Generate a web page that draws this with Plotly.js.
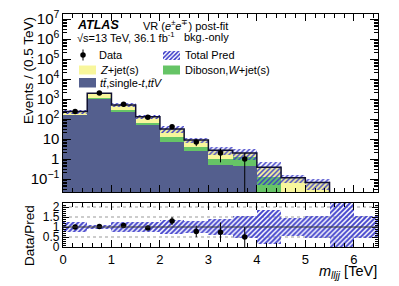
<!DOCTYPE html>
<html>
<head>
<meta charset="utf-8">
<script src="https://cdn.plot.ly/plotly-3.0.1.min.js"></script>
<style>html,body{margin:0;padding:0;background:#fff;}#plot{width:399px;height:286px;}</style>
</head>
<body>
<div id="plot"></div>
<script>
// ---- data ----
const binCenters = [0.25, 0.75, 1.25, 1.75, 2.25, 2.75, 3.25, 3.75, 4.25, 4.75, 5.25, 5.75, 6.25];
const binEdges   = [0, 0.5, 1, 1.5, 2, 2.5, 3, 3.5, 4, 4.5, 5, 5.5, 6, 6.5];
const ttbar   = [150, 1000, 216, 50, 6.8, 2.6, 0.5, 0.45, 0, 0, 0, 0, 0];
const diboson = [6, 160, 56, 15, 6.2, 1.25, 0.47, 0.85, 0.13, 0.005, 0.002, 0, 0];
const zjets   = [80, 770, 228, 65, 18.6, 5.15, 1.73, 0.7, 0.255, 0.11, 0.064, 0.003, 0.004];
const dataCounts   = [235, 1990, 540, 123, 41, 7, 2, 1, null, null, null, null, null];
const dataErrUp    = [15, 45, 23, 11, 6.4, 2.6, 1.3, 1.0, null, null, null, null, null];
const dataErrDown  = [15, 45, 23, 11, 6.4, 2.6, 1.32, 0.999, null, null, null, null, null];
const relUnc  = [0.24, 0.09, 0.24, 0.24, 0.37, 0.3, 0.4, 0.55, 0.87, 0.45, 0.55, 1.5, 0.56];
const xTickVals = [0, 1, 2, 3, 4, 5, 6];
const rTickVals = [0, 0.5, 1, 1.5, 2];
const rTickText = ['0', '0.5', '1', '1.5', '2'];

// ---- derived ----
const total = binCenters.map((_, i) => ttbar[i] + diboson[i] + zjets[i]);
const bandBase = total.map((t, i) => relUnc[i] < 1 ? t * (1 - relUnc[i]) : 1e-4);
const bandH = total.map((t, i) => t * (1 + relUnc[i]) - bandBase[i]);
const rBase = relUnc.map(r => 1 - r);
const rH = relUnc.map(r => 2 * r);
const ratio = dataCounts.map((d, i) => d == null ? null : d / total[i]);
const ratioUp = dataErrUp.map((e, i) => e == null ? null : e / total[i]);
const ratioDn = dataErrDown.map((e, i) => e == null ? null : e / total[i]);
const stepY = total.concat([total[total.length - 1]]);

// pixel -> paper helpers (plot area: x 63..378, y 14..247)
const L = 63, R = 378, T = 14, B = 247;
const px = x => (x - L) / (R - L);
const py = y => (B - y) / (B - T);

const FONT = 'Liberation Sans, Arial, Helvetica, sans-serif';
const COL_TT = '#545f8e', COL_DB = '#66c466', COL_Z = '#f8f69c';
const HATCH = {shape: '/', fgcolor: '#3535c8', bgcolor: 'rgba(255,255,255,0)', size: 3.5, solidity: 0.4, fillmode: 'replace'};

const traces = [
  {type: 'bar', x: binCenters, y: ttbar, width: 0.5, marker: {color: COL_TT, line: {width: 0}}, xaxis: 'x', yaxis: 'y', hoverinfo: 'skip'},
  {type: 'bar', x: binCenters, y: diboson, width: 0.5, marker: {color: COL_DB, line: {width: 0}}, xaxis: 'x', yaxis: 'y', hoverinfo: 'skip'},
  {type: 'bar', x: binCenters, y: zjets, width: 0.5, marker: {color: COL_Z, line: {width: 0}}, xaxis: 'x', yaxis: 'y', hoverinfo: 'skip'},
  {type: 'bar', x: binCenters, y: bandH, base: bandBase, width: 0.5,
   marker: {color: 'rgba(0,0,0,0)', line: {width: 0}, pattern: HATCH}, xaxis: 'x', yaxis: 'y', hoverinfo: 'skip'},
  {type: 'bar', x: binCenters, y: rH, base: rBase, width: 0.5,
   marker: {color: 'rgba(0,0,0,0)', line: {width: 0}, pattern: {shape: '/', fgcolor: '#4040cc', bgcolor: 'rgba(255,255,255,0)', size: 3.5, solidity: 0.55, fillmode: 'replace'}},
   xaxis: 'x2', yaxis: 'y2', hoverinfo: 'skip'},
  {type: 'scatter', mode: 'lines', x: binEdges, y: stepY, line: {shape: 'hv', color: '#101030', width: 1.5}, xaxis: 'x', yaxis: 'y', hoverinfo: 'skip'},
  {type: 'scatter', mode: 'markers', x: binCenters, y: dataCounts,
   marker: {color: 'black', size: 5.5},
   error_y: {type: 'data', array: dataErrUp, arrayminus: dataErrDown, color: 'black', thickness: 1, width: 0},
   xaxis: 'x', yaxis: 'y', hoverinfo: 'skip'},
  {type: 'scatter', mode: 'markers', x: binCenters, y: ratio,
   marker: {color: 'black', size: 5.5},
   error_y: {type: 'data', array: ratioUp, arrayminus: ratioDn, color: 'black', thickness: 1, width: 0},
   xaxis: 'x2', yaxis: 'y2', hoverinfo: 'skip'},
  // legend glyphs (pixel-unit overlay axes)
  {type: 'scatter', mode: 'markers', x: [83], y: [55], marker: {color: 'black', size: 5.5},
   error_y: {type: 'data', array: [5.5], arrayminus: [5.5], color: 'black', thickness: 1, width: 0},
   xaxis: 'x3', yaxis: 'y3', hoverinfo: 'skip'},
  {type: 'bar', x: [171.5], y: [-9], base: [59.5], width: 17,
   marker: {color: 'rgba(0,0,0,0)', line: {width: 0}, pattern: {shape: '/', fgcolor: '#3535c8', bgcolor: 'rgba(255,255,255,0)', size: 3, solidity: 0.5, fillmode: 'replace'}},
   xaxis: 'x3', yaxis: 'y3', hoverinfo: 'skip'}
];

const axLine = {showline: true, linecolor: 'black', linewidth: 1.2, mirror: 'ticks', zeroline: false, showgrid: false,
  ticks: 'inside', tickcolor: 'black', tickfont: {family: FONT, size: 13, color: 'black'}};

const layout = {
  width: 399, height: 286,
  margin: {l: L, r: 399 - R, t: T, b: 286 - B},
  paper_bgcolor: 'white', plot_bgcolor: 'white',
  showlegend: false, barmode: 'stack', bargap: 0,
  font: {family: FONT, color: 'black'},
  xaxis: Object.assign({}, axLine, {range: [0, 6.5], domain: [0, 1], anchor: 'y', showticklabels: false,
    tickvals: xTickVals, ticklen: 7, minor: {dtick: 0.2, ticklen: 4, ticks: 'inside', tickcolor: 'black'}}),
  yaxis: Object.assign({}, axLine, {type: 'log', range: [-1.65, 7.25], domain: [py(192), 1], anchor: 'x',
    dtick: 1, exponentformat: 'power', ticklen: 8, tickfont: {family: FONT, size: 12, color: 'black'},
    minor: {dtick: 'D1', ticklen: 4, ticks: 'inside', tickcolor: 'black'}}),
  xaxis2: Object.assign({}, axLine, {range: [0, 6.5], domain: [0, 1], anchor: 'y2',
    tickvals: xTickVals, ticklen: 7, minor: {dtick: 0.2, ticklen: 4, ticks: 'inside', tickcolor: 'black'}}),
  yaxis2: Object.assign({}, axLine, {range: [0, 2.2], domain: [0, py(203)], anchor: 'x2',
    tickvals: rTickVals, ticktext: rTickText, ticklen: 6, tickfont: {family: FONT, size: 12, color: 'black'},
    minor: {dtick: 0.1, ticklen: 3, ticks: 'inside', tickcolor: 'black'}}),
  xaxis3: {overlaying: 'x', range: [L, R], visible: false, anchor: 'y3'},
  yaxis3: {overlaying: 'y', range: [192, T], visible: false, anchor: 'x3'},
  shapes: [
    {type: 'line', xref: 'x2', yref: 'y2', x0: 0, x1: 6.5, y0: 0.5, y1: 0.5, line: {color: '#999', width: 1, dash: 'dot'}, layer: 'below'},
    {type: 'line', xref: 'x2', yref: 'y2', x0: 0, x1: 6.5, y0: 1.5, y1: 1.5, line: {color: '#999', width: 1, dash: 'dot'}, layer: 'below'},
    {type: 'line', xref: 'x2', yref: 'y2', x0: 0, x1: 6.5, y0: 2, y1: 2, line: {color: '#999', width: 1, dash: 'dot'}, layer: 'below'},
    {type: 'line', xref: 'x2', yref: 'y2', x0: 0, x1: 6.5, y0: 1, y1: 1, line: {color: '#333', width: 1}, layer: 'above'},
    {type: 'rect', xref: 'paper', yref: 'paper', x0: px(79), x1: px(96), y0: py(74.5), y1: py(65.5), fillcolor: COL_Z, line: {width: 0}},
    {type: 'rect', xref: 'paper', yref: 'paper', x0: px(163), x1: px(180), y0: py(74.5), y1: py(65.5), fillcolor: COL_DB, line: {width: 0}},
    {type: 'rect', xref: 'paper', yref: 'paper', x0: px(79), x1: px(96), y0: py(87.5), y1: py(78), fillcolor: COL_TT, line: {width: 0}}
  ],
  annotations: []
};

function txt(text, x, y, size, xanchor, extra) {
  return Object.assign({text: text, xref: 'paper', yref: 'paper', x: px(x), y: py(y), xanchor: xanchor || 'left', yanchor: 'middle',
    showarrow: false, font: {family: FONT, size: size, color: 'black'}, borderpad: 0}, extra || {});
}
layout.annotations = [
  txt('<b><i>ATLAS</i></b>', 76, 25, 12.5),
  txt('VR (<i>e</i><sup>±</sup><i>e</i><sup>∓</sup>) post-fit', 142, 25, 11),
  txt('√s=13 TeV, 36.1 fb<sup>-1</sup>', 76, 37, 11),
  txt('bkg.-only', 183, 37, 11),
  txt('Data', 98, 55, 11),
  txt('Total Pred', 184, 55, 11),
  txt('<i>Z</i>+jet(s)', 99, 70, 11),
  txt('Diboson,<i>W</i>+jet(s)', 184, 70, 11),
  txt('<i>t</i><i>t̄</i>,single-<i>t</i>,<i>t</i><i>t̄</i><i>V</i>', 99, 83, 11),
  txt('Events / (0.5 TeV)', 29, 71, 13.5, 'center', {textangle: -90}),
  txt('Data/Pred', 29, 236, 13.5, 'center', {textangle: -90}),
  txt('<i>m</i><sub><i>lljj</i></sub> [TeV]', 378, 272, 14.5, 'right')
];

Plotly.newPlot('plot', traces, layout, {staticPlot: true, displayModeBar: false});
</script>
</body>
</html>
